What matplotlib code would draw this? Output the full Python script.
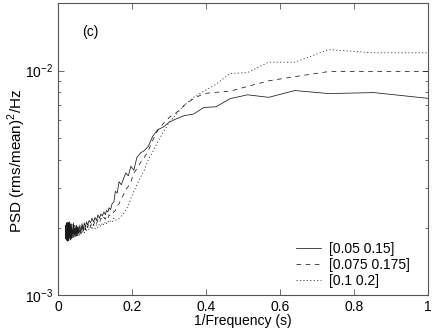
import matplotlib
matplotlib.use('Agg')
import matplotlib.pyplot as plt
from matplotlib.ticker import FixedLocator, LogLocator, NullFormatter

plt.rcParams['font.family'] = ['Liberation Sans', 'DejaVu Sans']
plt.rcParams['mathtext.fontset'] = 'custom'
plt.rcParams['mathtext.rm'] = 'Liberation Sans'

# 1/frequency (s), shared by the three band settings
period = [1.024, 0.853, 0.731, 0.640, 0.569, 0.512, 0.465, 0.427, 0.394, 0.366,
          0.341, 0.320, 0.301, 0.284, 0.269, 0.256, 0.244, 0.233, 0.223, 0.213,
          0.205, 0.197, 0.190, 0.183, 0.177, 0.171, 0.165, 0.160, 0.155, 0.151,
          0.146, 0.142, 0.138, 0.135, 0.131, 0.128,
          0.124, 0.120, 0.116, 0.112, 0.108, 0.104, 0.100, 0.096, 0.092, 0.088,
          0.084, 0.080, 0.077, 0.074, 0.071, 0.068, 0.065, 0.062, 0.059, 0.056,
          0.054, 0.052, 0.050, 0.048, 0.046, 0.044, 0.042,
          0.040, 0.038, 0.036, 0.035, 0.034, 0.033, 0.032, 0.031, 0.030, 0.0295,
          0.029, 0.0285, 0.028, 0.0275, 0.027, 0.0265, 0.026, 0.0255, 0.025, 0.0245,
          0.024, 0.0235, 0.023, 0.0225, 0.022, 0.0215, 0.021, 0.0205, 0.020]

# PSD values in units of 1e-3
psd_a = [7.45, 7.98, 7.9, 8.15, 7.6, 7.8, 7.5, 6.9, 6.85, 6.4,
         6.3, 6.1, 5.9, 5.6, 5.45, 5.1, 4.6, 4.4, 4.3, 4.1,
         3.6, 3.75, 3.4, 3.5, 3.3, 3.1, 3.2, 2.85, 2.9, 2.6,
         2.55, 2.4, 2.45, 2.35, 2.38, 2.28,
         2.35, 2.25, 2.3, 2.2, 2.28, 2.15, 2.22, 2.12, 2.2, 2.1,
         2.15, 2.05, 2.12, 2.0, 2.1, 1.95, 2.08, 1.9, 2.05, 1.88,
         2.02, 1.85, 2.05, 1.82, 2.0, 1.85, 2.1,
         1.8, 2.0, 1.78, 2.08, 1.76, 2.05, 1.8, 2.12, 1.82, 2.0,
         1.75, 2.1, 1.78, 2.04, 1.76, 2.1, 1.8, 2.06, 1.74, 2.1,
         1.82, 2.02, 1.76, 2.08, 1.8, 2.0, 1.78, 2.05, 1.9]

psd_b = [9.9, 9.9, 9.9, 9.4, 9.0, 8.5, 8.1, 8.0, 7.9, 7.5,
         7.0, 6.5, 6.2, 5.8, 5.4, 4.9, 4.4, 4.1, 3.9, 3.65,
         3.5, 3.2, 3.05, 2.95, 2.8, 2.7, 2.55, 2.5, 2.38, 2.35,
         2.3, 2.25, 2.28, 2.2, 2.25, 2.18,
         2.22, 2.15, 2.2, 2.1, 2.17, 2.08, 2.15, 2.05, 2.12, 2.02,
         2.1, 2.0, 2.06, 1.95, 2.05, 1.9, 2.02, 1.88, 2.0, 1.85,
         2.05, 1.83, 1.98, 1.85, 2.05, 1.8, 1.98,
         1.83, 2.06, 1.8, 2.0, 1.76, 2.1, 1.78, 2.02, 1.8, 2.08,
         1.76, 2.04, 1.8, 2.1, 1.78, 2.0, 1.75, 2.06, 1.8, 2.02,
         1.77, 2.1, 1.8, 2.04, 1.76, 2.0, 1.8, 2.06, 1.88]

psd_c = [12.0, 12.0, 12.4, 10.9, 10.9, 9.8, 9.7, 8.7, 8.1, 7.6,
         7.0, 6.4, 5.9, 5.3, 4.8, 4.35, 4.0, 3.6, 3.35, 3.1,
         2.9, 2.7, 2.5, 2.4, 2.3, 2.25, 2.2, 2.18, 2.15, 2.2,
         2.12, 2.15, 2.1, 2.14, 2.08, 2.12,
         2.05, 2.1, 2.02, 2.08, 2.0, 2.06, 1.98, 2.05, 1.96, 2.03,
         1.95, 2.02, 1.92, 2.0, 1.9, 1.98, 1.88, 1.97, 1.85, 1.98,
         1.84, 2.02, 1.82, 1.97, 1.86, 2.04, 1.8,
         1.95, 1.8, 2.03, 1.78, 2.0, 1.8, 2.06, 1.78, 2.0, 1.82,
         2.05, 1.78, 2.02, 1.8, 2.08, 1.76, 2.0, 1.8, 2.04, 1.78,
         2.0, 1.82, 2.06, 1.76, 2.0, 1.8, 2.04, 1.78, 1.9]

labels = ['[0.05 0.15]', '[0.075 0.175]', '[0.1 0.2]']
xticks = [0, 0.2, 0.4, 0.6, 0.8, 1]
xticklabels = ['0', '0.2', '0.4', '0.6', '0.8', '1']

fig = plt.figure(figsize=(4.36, 3.32), dpi=100)
ax = fig.add_axes([0.133, 0.111, 0.849, 0.880])

line_col = '#1a1a1a'
ax.plot(period, [v * 1e-3 for v in psd_a], color=line_col, lw=0.55, ls='-', label=labels[0])
ax.plot(period, [v * 1e-3 for v in psd_b], color=line_col, lw=0.55, ls=(0, (6, 6)), label=labels[1])
ax.plot(period, [v * 1e-3 for v in psd_c], color=line_col, lw=0.55, ls=(0, (1.5, 3)), label=labels[2])

ax.set_yscale('log')
ax.set_xlim(0, 1)
ax.set_ylim(1e-3, 2e-2)
ax.xaxis.set_major_locator(FixedLocator(xticks))
ax.set_xticklabels(xticklabels)
ax.yaxis.set_major_locator(LogLocator(base=10, numticks=5))
ax.yaxis.set_minor_locator(LogLocator(base=10, subs=range(2, 10), numticks=20))
ax.yaxis.set_minor_formatter(NullFormatter())

ax.tick_params(which='both', direction='in', top=True, right=True, labelsize=10,
               color='#555555')
ax.tick_params(which='major', length=4, width=0.6)
ax.tick_params(which='minor', length=2.5, width=0.6)
for s in ax.spines.values():
    s.set_linewidth(0.8)
    s.set_color('#555555')

ax.set_xlabel('1/Frequency (s)', fontsize=10, labelpad=0)
ax.set_ylabel('PSD (rms/mean)$^2$/Hz', fontsize=11)
ax.yaxis.set_label_coords(-0.082, 0.46)
ax.text(0.065, 0.0148, '(c)', fontsize=10, va='center')

ax.legend(loc='lower right', bbox_to_anchor=(0.966, 0.005), frameon=False, fontsize=10,
          handlelength=1.8, handletextpad=0.58, labelspacing=0.15, borderaxespad=0)

fig.savefig('out.png', dpi=100)
